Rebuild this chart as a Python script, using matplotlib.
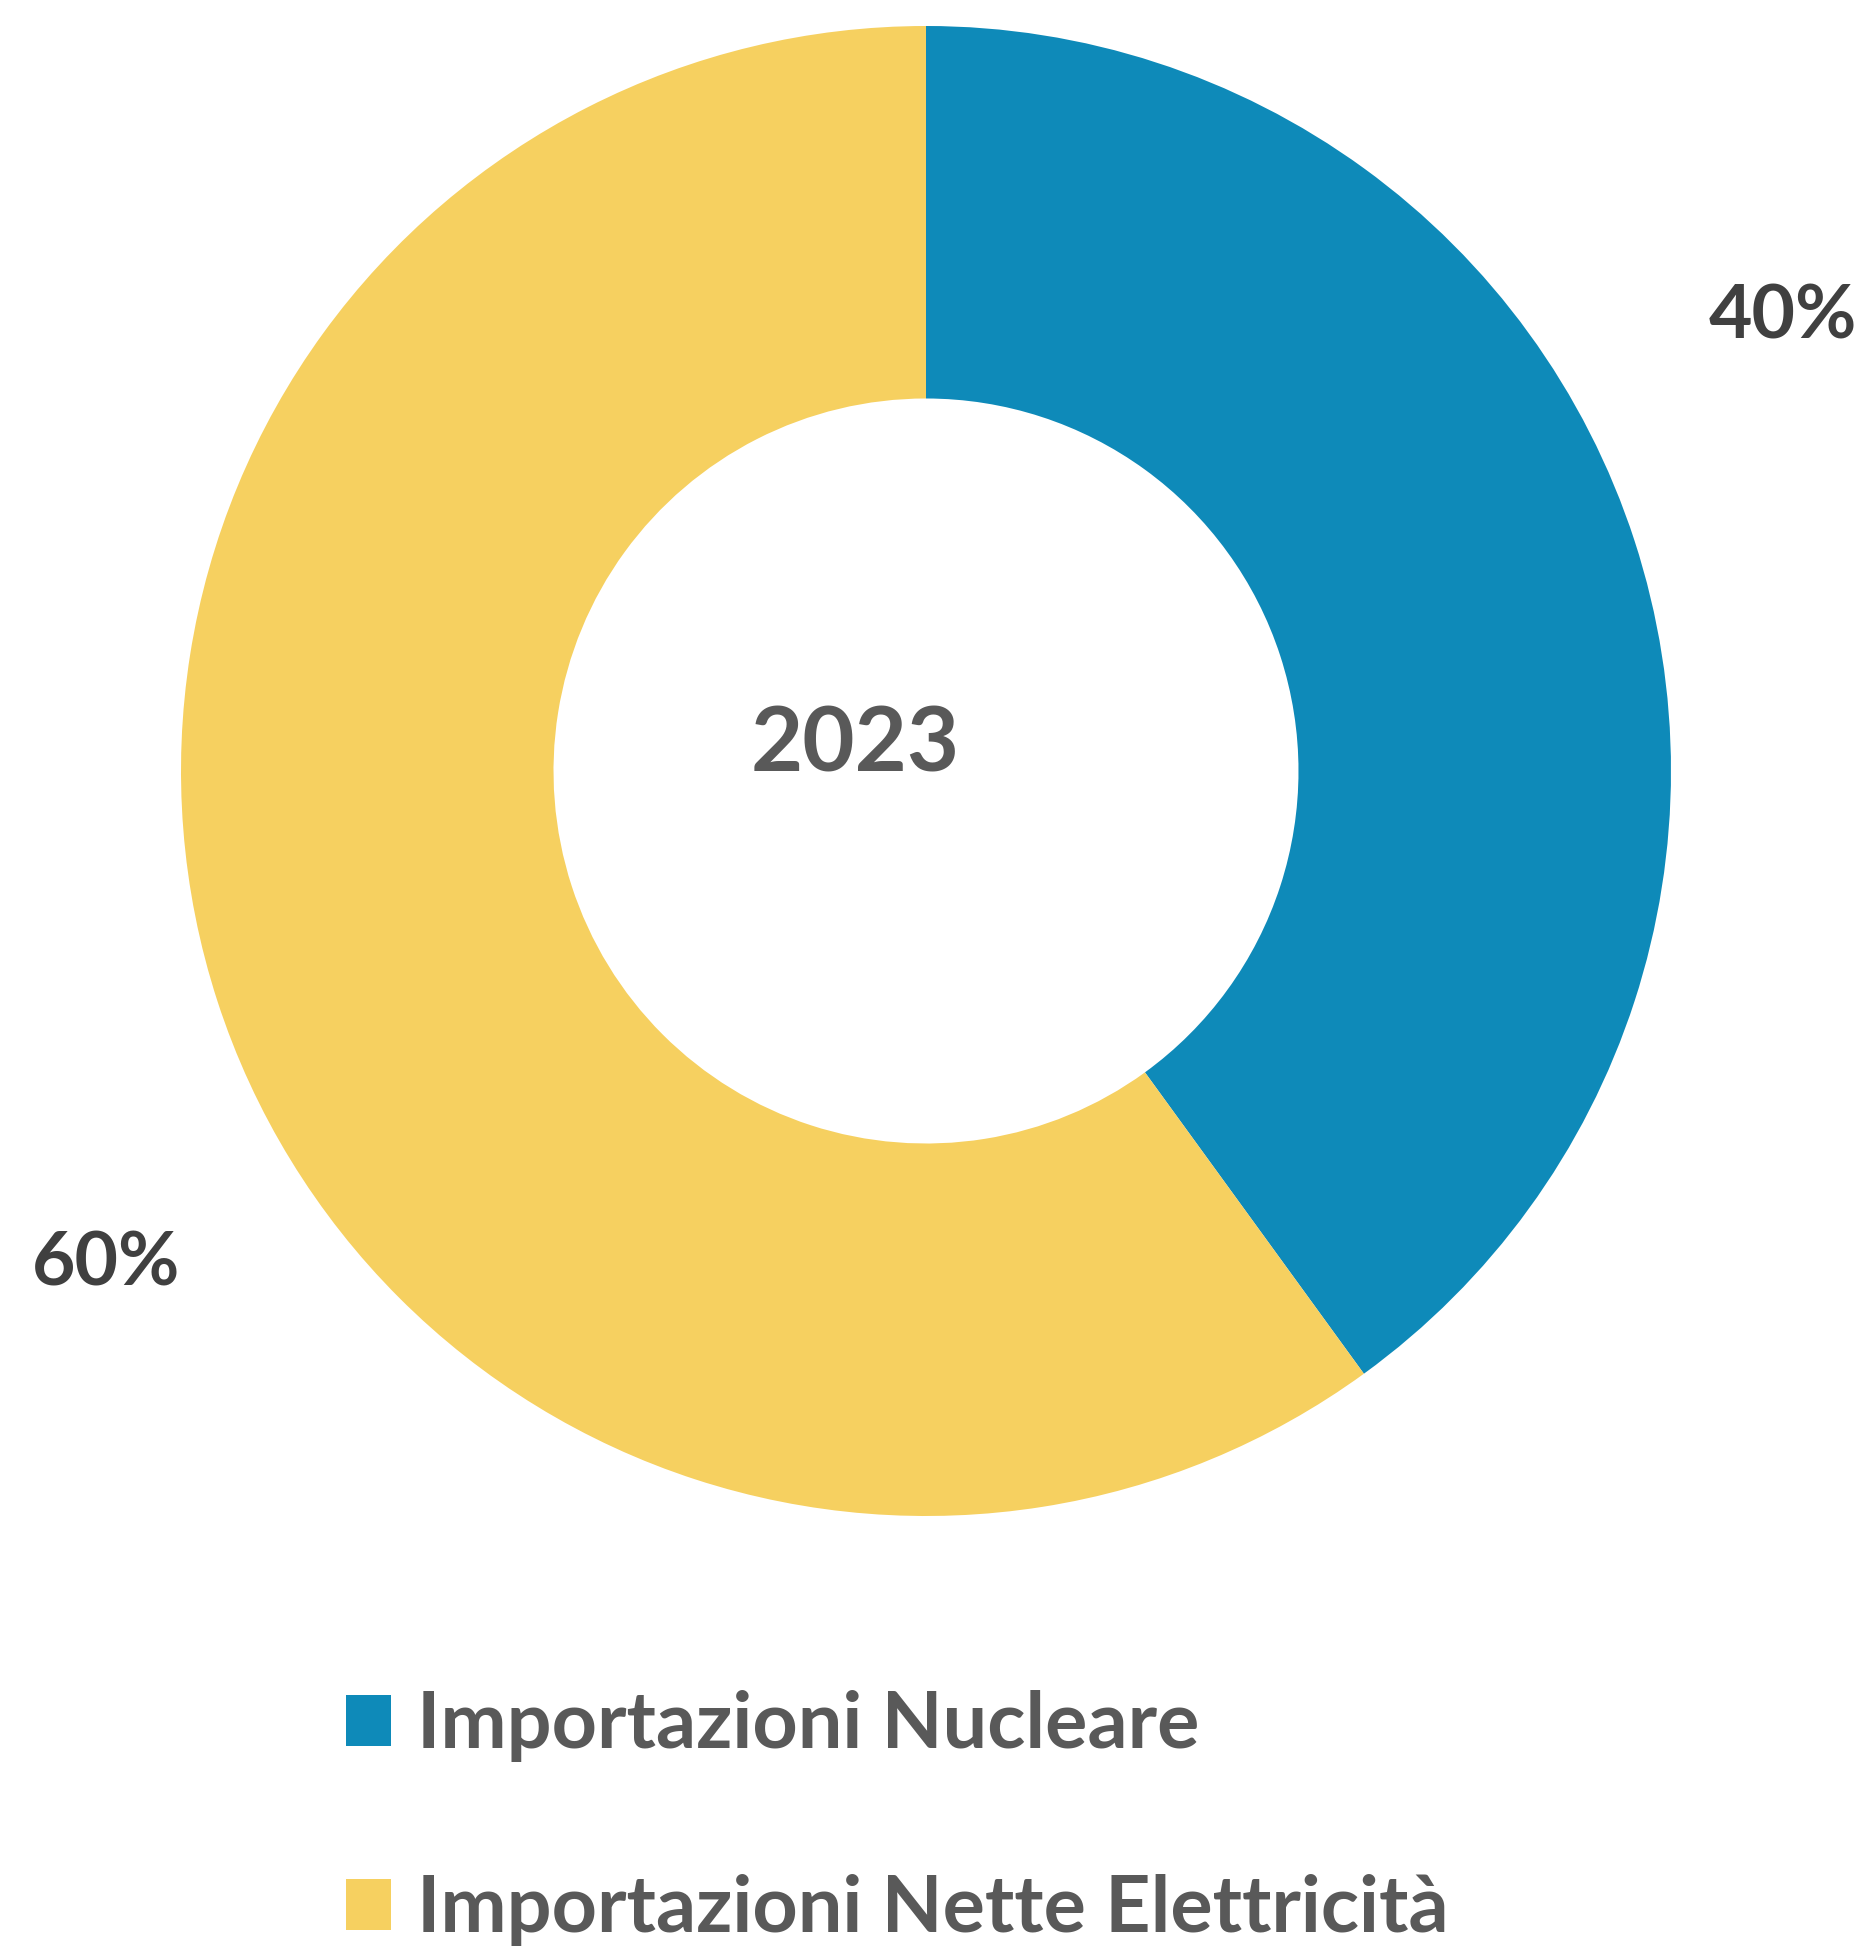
import matplotlib.pyplot as plt
from matplotlib.patches import Patch

# data
categories = ["Importazioni Nucleare", "Importazioni Nette Elettricità"]
values = [40, 60]
colors = ["#0E8AB9", "#F6D060"]
pct_labels = ["40%", "60%"]
center_label = "2023"

plt.rcParams['font.family'] = ['Lato', 'DejaVu Sans']

W, H = 1865, 1947
fig = plt.figure(figsize=(W / 100, H / 100), dpi=100)

# pie centre (926, 771) px from top-left, outer radius 745 px
cx, cy, R = 926, 771, 745
ax = fig.add_axes([(cx - R) / W, (H - cy - R) / H, 2 * R / W, 2 * R / H])
ax.pie(values, colors=colors, startangle=90, counterclock=False,
       radius=1, wedgeprops=dict(width=0.5, linewidth=0))
ax.set_xlim(-1, 1)
ax.set_ylim(-1, 1)
ax.set_aspect('equal')
ax.axis('off')

# percentage labels (data coords of the unit pie)
label_pos = [(1.150, 0.609), (-1.101, -0.662)]
for (x, y), t in zip(label_pos, pct_labels):
    ax.text(x, y, t, ha='center', va='center', fontsize=54,
            fontweight='bold', color='#404040', clip_on=False)

ax.text((855 - cx) / R, (cy - 745) / R, center_label, ha='center', va='center',
        fontsize=65, fontweight='bold', color='#595959')

handles = [Patch(facecolor=c, edgecolor='none') for c in colors]
fig.legend(handles, categories, loc='upper left',
           bbox_to_anchor=(346 / W, 1 - 1690 / H), frameon=False,
           labelcolor='#595959',
           prop=dict(weight='bold', size=57),
           handlelength=0.57, handleheight=0.61, handletextpad=0.33,
           labelspacing=1.42, borderpad=0, borderaxespad=0)

fig.savefig("out.png", dpi=100)
